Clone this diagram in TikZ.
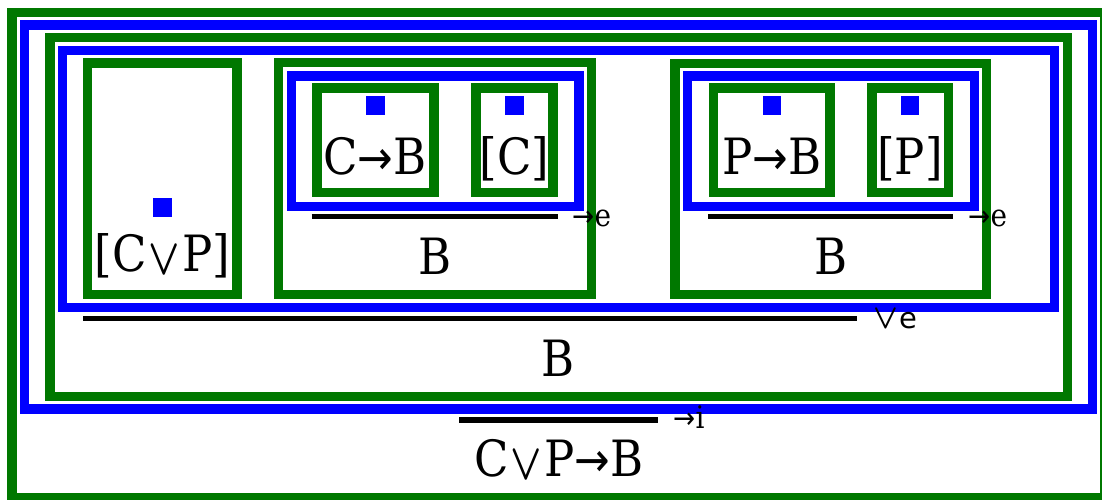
\documentclass[tikz,border=0pt]{standalone}
\usepackage{fontspec}
\usepackage{graphicx}
\setmainfont{DejaVu Serif Condensed}
\newfontfamily\symf{DejaVu Sans}
\newcommand\ORsym{\kern2pt\raisebox{-3pt}{\scalebox{1.65}[2.05]{\boldmath$\vee$}}\kern2pt}
\newcommand\ORsmall{\scalebox{1.3}[1.38]{\boldmath$\vee$}\kern1pt}
\newcommand\ARsym{{\symf\scalebox{0.85}[0.95]{→}}}
\definecolor{boxgreen}{RGB}{0,120,0}
\definecolor{boxblue}{RGB}{0,0,255}
\tikzset{
  gbox/.style={draw=boxgreen,line width=9.5pt},
  bbox/.style={draw=boxblue,line width=9.5pt},
  hole/.style={fill=boxblue},
  bar/.style={draw=black,line width=5.5pt},
  big/.style={inner sep=0pt,anchor=base,font=\fontsize{50}{56}\selectfont},
  rule/.style={inner sep=0pt,anchor=base west,font=\fontsize{31}{36}\selectfont},
}
\begin{document}
\begin{tikzpicture}[x=1pt,y=-1pt]
\useasboundingbox (0,0) rectangle (1102,499);
\begin{scope}
\clip (0,0) rectangle (1102,499);
% nested boxes
\draw[gbox] (12,12.5) rectangle (1105,498);
\draw[bbox] (24.3,25) rectangle (1092.5,409);
\draw[gbox] (50.2,37.7) rectangle (1067.7,396.5);
\draw[bbox] (62.7,50.3) rectangle (1054.7,307.7);
\draw[gbox] (87.7,62.8) rectangle (237,294.5);
\draw[gbox] (278.7,62.7) rectangle (591.3,294.7);
\draw[bbox] (291.3,75.8) rectangle (579,206.3);
\draw[gbox] (317,88) rectangle (434,192.5);
\draw[gbox] (475.8,88) rectangle (553,192.5);
\draw[gbox] (675,63.3) rectangle (986.7,294.7);
\draw[bbox] (687.7,75.8) rectangle (974.7,206.3);
\draw[gbox] (713.3,88) rectangle (830,192.5);
\draw[gbox] (872,88) rectangle (948.7,192.5);
\end{scope}
% holes
\foreach \n/\x/\y in {h1/162.5/207.5,h2/375.3/105.5,h3/514.5/105.5,h4/771.8/105.5,h5/910/105.5}
  \node[hole,minimum size=18.5pt,inner sep=0pt] (\n) at (\x,\y) {};
% formulas
\node[big] (cvp) at (162.5,271) {[C\ORsym P]};
\node[big] (cb) at (375,174) {C\ARsym B};
\node[big] (c) at (514.5,174) {[C]};
\node[big] (pb) at (771.7,174) {P\ARsym B};
\node[big] (p) at (910,174) {[P]};
\node[big] (b1) at (435,274) {B};
\node[big] (b2) at (831,274) {B};
\node[big] (b3) at (558.3,376) {B};
\node[big] (goal) at (558.8,476.7) {C\ORsym P\ARsym B};
% inference bars
\coordinate (l1a) at (311.7,216.3); \coordinate (l1b) at (557.7,216.3);
\coordinate (l2a) at (708.3,216.3); \coordinate (l2b) at (953.3,216.3);
\coordinate (l3a) at (83,318.5);    \coordinate (l3b) at (856.7,318.5);
\coordinate (l4a) at (459.3,420);   \coordinate (l4b) at (658.3,420);
\draw[bar] (l1a) -- (l1b);
\draw[bar] (l2a) -- (l2b);
\draw[bar] (l3a) -- (l3b);
\draw[bar] (l4a) -- (l4b);
% rule labels
\node[rule] (r1) at (572.3,226) {\ARsym e};
\node[rule] (r2) at (968.3,226) {\ARsym e};
\node[rule,font=\fontsize{29}{34}\selectfont\symf] (r3) at (873.3,328) {\ORsmall e};
\node[rule] (r4) at (673.3,428) {\ARsym i};
\end{tikzpicture}
\end{document}
